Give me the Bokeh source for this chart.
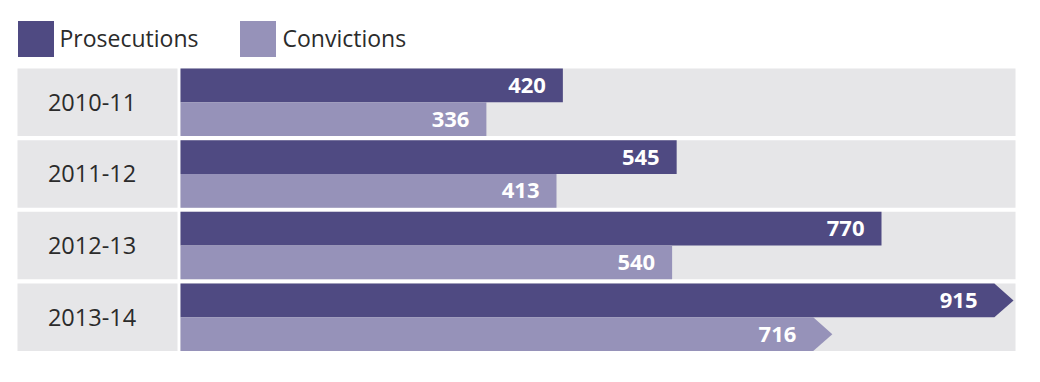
from bokeh.plotting import figure
from bokeh.models import ColumnDataSource, Range1d, Legend, LegendItem
from bokeh.core.properties import value
from bokeh.embed import file_html
from bokeh.resources import INLINE

# ---- data ----
years = ["2010-11", "2011-12", "2012-13", "2013-14"]
prosecutions = [420, 545, 770, 915]
convictions = [336, 413, 540, 716]

# ---- style / layout ----
DARK = "#4f4a82"
LIGHT = "#9692b9"
BAND = "#e6e6e8"
TEXT = "#2b2b2b"
FONT = "Open Sans"

W, H = 1024, 366
PX = 0.9104          # pixels per unit of value
ZERO_SX = 180        # screen x of value 0
ROW = 71.67          # row pitch in px
TOP0 = 68            # screen y of first row top
BAND_H = 67.5 / ROW  # band height in row units
HALF = BAND_H / 2
ARROW = 21           # arrow head length in value units

x_start = -ZERO_SX / PX
x_end = (W - ZERO_SX) / PX
y_top = -TOP0 / ROW
y_bot = (H - TOP0) / ROW

p = figure(width=W, height=H, x_range=Range1d(x_start, x_end),
           y_range=Range1d(y_bot, y_top), output_backend="svg",
           toolbar_location=None, min_border=0, outline_line_color=None,
           x_axis_location=None, y_axis_location=None,
           background_fill_color="white", border_fill_color="white")
p.grid.visible = False

n = len(years)
rows = list(range(n))

# background bands
lab_left = (17 - ZERO_SX) / PX
lab_right = (177 - ZERO_SX) / PX
bar_right = (1015 - ZERO_SX) / PX
p.quad(left=[lab_left] * n, right=[lab_right] * n,
       top=rows, bottom=[r + BAND_H for r in rows],
       fill_color=BAND, line_color=None)
p.quad(left=[0] * n, right=[bar_right] * n,
       top=rows, bottom=[r + BAND_H for r in rows],
       fill_color=BAND, line_color=None)

# normal bars (all rows except latest)
last = n - 1
norm = [i for i in rows if i != last]
src_p = ColumnDataSource(dict(y=[i + HALF / 2 for i in norm],
                              v=[prosecutions[i] for i in norm]))
src_c = ColumnDataSource(dict(y=[i + HALF * 1.5 for i in norm],
                              v=[convictions[i] for i in norm]))
rp = p.hbar(y="y", left=0, right="v", height=HALF, source=src_p,
            fill_color=DARK, line_color=None)
rc = p.hbar(y="y", left=0, right="v", height=HALF, source=src_c,
            fill_color=LIGHT, line_color=None)

# arrow bars for latest year
def arrow(v, top, bot):
    mid = (top + bot) / 2
    return [0, v - ARROW, v, v - ARROW, 0], [top, top, mid, bot, bot]

ax1, ay1 = arrow(prosecutions[last], last, last + HALF)
ax2, ay2 = arrow(convictions[last], last + HALF, last + BAND_H)
p.patch(ax1, ay1, fill_color=DARK, line_color=None)
p.patch(ax2, ay2, fill_color=LIGHT, line_color=None)

# value labels
vals, ys, offs = [], [], []
for i in rows:
    off = -36 if i == last else -17
    vals += [prosecutions[i], convictions[i]]
    ys += [i + HALF / 2, i + HALF * 1.5]
    offs += [off, off]
src_t = ColumnDataSource(dict(x=vals, y=ys, t=[str(v) for v in vals], o=offs))
p.text(x="x", y="y", text="t", x_offset="o", source=src_t,
       text_align="right", text_baseline="middle", text_color="white",
       text_font=value(FONT), text_font_style="bold", text_font_size="22px")

# category labels
lab_x = (91.5 - ZERO_SX) / PX
p.text(x=[lab_x] * n, y=[r + HALF for r in rows], text=years,
       text_align="center", text_baseline="middle", text_color=TEXT,
       text_font=value(FONT), text_font_size="23.5px")

# legend
legend = Legend(items=[LegendItem(label="Prosecutions", renderers=[rp]),
                       LegendItem(label="Convictions", renderers=[rc])],
                orientation="horizontal", location=(12.5, 305.5),
                glyph_width=45, glyph_height=45, label_standoff=2,
                spacing=37, padding=0, margin=0,
                border_line_color=None, background_fill_alpha=0,
                label_text_font=FONT, label_text_font_size="23px",
                label_text_color=TEXT)
p.add_layout(legend, "center")

open("out.html", "w").write(file_html(p, INLINE))
